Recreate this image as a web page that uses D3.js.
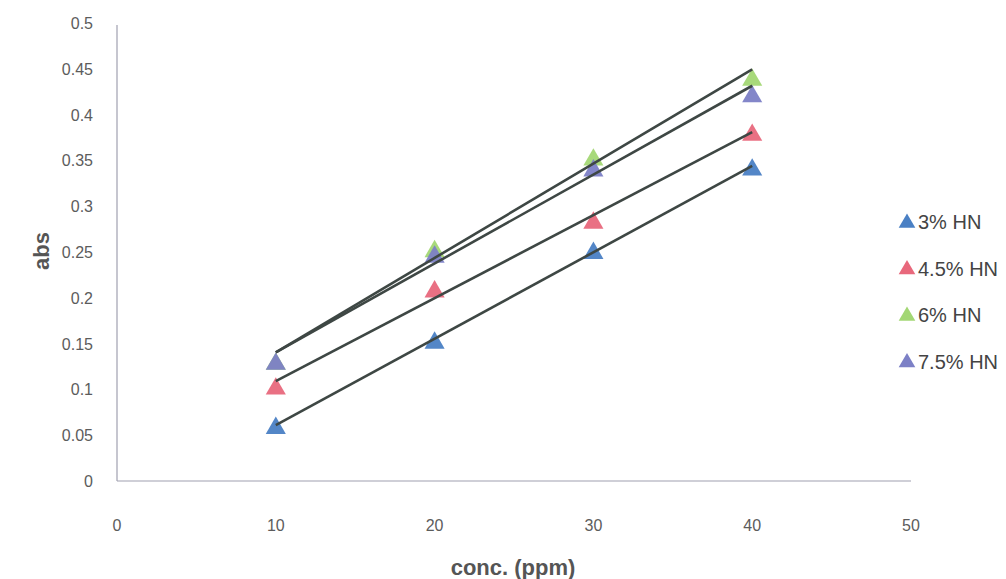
<!DOCTYPE html>
<html>
<head>
<meta charset="utf-8">
<script src="https://cdn.jsdelivr.net/npm/d3@7"></script>
<style>
  body { margin: 0; background: #fff; }
  text { font-family: "Liberation Sans", Arial, sans-serif; }
</style>
</head>
<body>
<script>
// size of the whole picture
var width = 1006;
var height = 579;

// data
var concs = [10, 20, 30, 40];
var seriesNames = ["3% HN", "4.5% HN", "6% HN", "7.5% HN"];
var absHN3 = [0.061, 0.154, 0.252, 0.343];
var absHN45 = [0.104, 0.21, 0.285, 0.381];
var absHN6 = [0.131, 0.254, 0.354, 0.441];
var absHN75 = [0.131, 0.248, 0.342, 0.423];
var colors = ["#4a80c4", "#e8687c", "#a3d774", "#7c80c6"];
var xTicks = [0, 10, 20, 30, 40, 50];
var yTicks = [0, 0.05, 0.1, 0.15, 0.2, 0.25, 0.3, 0.35, 0.4, 0.45, 0.5];

var allSeries = [absHN3, absHN45, absHN6, absHN75];

var svg = d3.select("body")
    .append("svg")
    .attr("width", width)
    .attr("height", height);

var x = d3.scaleLinear().domain([0, 50]).range([117, 911]);
var y = d3.scaleLinear().domain([0, 0.5]).range([481, 23]);

// axis lines (no tick marks)
svg.append("line")
    .attr("x1", x(0)).attr("x2", x(0))
    .attr("y1", y(0)).attr("y2", 25)
    .attr("stroke", "#a0a0b0").attr("stroke-width", 1.2);
svg.append("line")
    .attr("x1", x(0)).attr("x2", x(50))
    .attr("y1", y(0)).attr("y2", y(0))
    .attr("stroke", "#a0a0b0").attr("stroke-width", 1.2);

// tick labels
svg.selectAll(".ylab")
    .data(yTicks)
    .enter().append("text")
    .attr("class", "ylab")
    .attr("x", 93)
    .attr("y", function(d) { return y(d) + 6; })
    .attr("text-anchor", "end")
    .attr("font-size", 16)
    .attr("fill", "#5c5c5c")
    .text(function(d) { return d; });

svg.selectAll(".xlab")
    .data(xTicks)
    .enter().append("text")
    .attr("class", "xlab")
    .attr("x", function(d) { return x(d); })
    .attr("y", 531)
    .attr("text-anchor", "middle")
    .attr("font-size", 16)
    .attr("fill", "#5c5c5c")
    .text(function(d) { return d; });

// axis titles
svg.append("text")
    .attr("transform", "translate(49,251) rotate(-90)")
    .attr("text-anchor", "middle")
    .attr("font-size", 22)
    .attr("font-weight", "bold")
    .attr("fill", "#555")
    .text("abs");

svg.append("text")
    .attr("x", 513)
    .attr("y", 575)
    .attr("text-anchor", "middle")
    .attr("font-size", 22)
    .attr("font-weight", "bold")
    .attr("fill", "#555")
    .text("conc. (ppm)");

var tri = d3.symbol().type(d3.symbolTriangle).size(175);

// markers
allSeries.forEach(function(vals, i) {
  svg.append("g")
    .selectAll("path")
    .data(vals)
    .enter().append("path")
    .attr("d", tri)
    .attr("transform", function(d, j) {
      return "translate(" + x(concs[j]) + "," + (y(d) + 3) + ")";
    })
    .attr("fill", colors[i])
    .attr("opacity", 0.95);
});

// linear trend lines
function fit(vals) {
  var mx = d3.mean(concs), my = d3.mean(vals);
  var sxy = d3.sum(concs, function(c, k) { return (c - mx) * (vals[k] - my); });
  var sxx = d3.sum(concs, function(c) { return (c - mx) * (c - mx); });
  var b = sxy / sxx;
  return [b, my - b * mx];
}

allSeries.forEach(function(vals) {
  var f = fit(vals);
  var x0 = d3.min(concs), x1 = d3.max(concs);
  svg.append("line")
    .attr("x1", x(x0)).attr("y1", y(f[1] + f[0] * x0))
    .attr("x2", x(x1)).attr("y2", y(f[1] + f[0] * x1))
    .attr("stroke", "#3e4744")
    .attr("stroke-width", 2.6);
});

// legend
var legend = svg.append("g");
seriesNames.forEach(function(name, i) {
  var ly = 222 + i * 46.5;
  legend.append("path")
    .attr("d", d3.symbol().type(d3.symbolTriangle).size(120))
    .attr("transform", "translate(907," + (ly + 1) + ")")
    .attr("fill", colors[i]);
  legend.append("text")
    .attr("x", 918)
    .attr("y", ly + 7)
    .attr("font-size", 20)
    .attr("fill", "#444")
    .text(name);
});
</script>
</body>
</html>
